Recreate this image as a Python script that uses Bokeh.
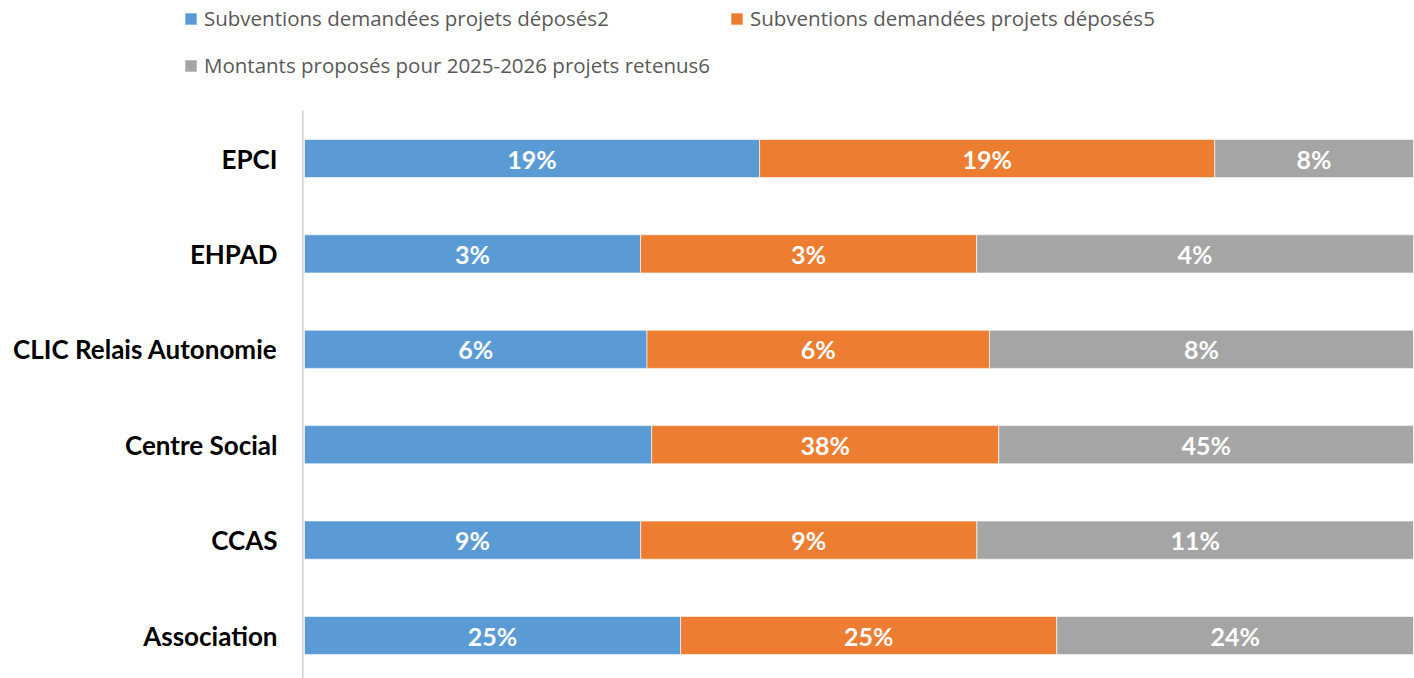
from bokeh.plotting import figure
from bokeh.models import ColumnDataSource, Legend, LegendItem, Range1d, FixedTicker
from bokeh.embed import file_html
from bokeh.resources import INLINE
from bokeh.core.properties import value

# ---- data (bottom to top) ----
categories = ["Association", "CCAS", "Centre Social", "CLIC Relais Autonomie", "EHPAD", "EPCI"]
series_names = [
    "Subventions demandées projets déposés2",
    "Subventions demandées projets déposés5",
    "Montants proposés pour 2025-2026 projets retenus6",
]
s1 = [25.2, 8.7, 38.0, 6.3, 3.0, 19.0]
s2 = [25.2, 8.7, 38.0, 6.3, 3.0, 19.0]
s3 = [23.9, 11.3, 45.4, 7.8, 3.9, 8.3]
hidden_labels = [(0, "Centre Social")]  # (series index, category) with no data label

colors = ["#5B9BD5", "#ED7D31", "#A5A5A5"]
series = [s1, s2, s3]

ys = list(range(len(categories)))
totals = [a + b + c for a, b, c in zip(s1, s2, s3)]

# ---- layout (pixels) ----
W, H = 1414, 678
PLOT_L, PLOT_R = 304, 1413          # where 0 % and 100 % fall
ROW_TOP, ROW_BOT, ROW_STEP = 158, 635, 95.4   # centres of top / bottom category rows

x_lo = -PLOT_L / (PLOT_R - PLOT_L)
x_hi = 1 + (W - PLOT_R) / (PLOT_R - PLOT_L)
n = len(categories)
y_hi = (n - 1) + ROW_TOP / ROW_STEP
y_lo = -(H - ROW_BOT) / ROW_STEP

p = figure(width=W, height=H, output_backend="svg", toolbar_location=None,
           x_range=Range1d(x_lo, x_hi), y_range=Range1d(y_lo, y_hi),
           x_axis_location=None,
           min_border_left=0, min_border_right=0, min_border_top=0, min_border_bottom=0)
p.outline_line_color = None
p.xgrid.visible = False
p.ygrid.visible = False

# vertical axis line (from the bottom up to the top band edge)
p.segment(x0=[-0.0015], y0=[y_lo], x1=[-0.0015], y1=[n - 0.5], line_color="#D9D9D9", line_width=2)

renderers = []
left = [0.0] * n
for i, s in enumerate(series):
    frac = [v / t for v, t in zip(s, totals)]
    right = [l + f for l, f in zip(left, frac)]
    mid = [(l + r) / 2 for l, r in zip(left, right)]
    labels = []
    for k, v in enumerate(s):
        if (i, categories[k]) in hidden_labels:
            labels.append("")
        else:
            labels.append(f"{round(v)}%")
    src = ColumnDataSource(dict(y=ys, left=left, right=right, mid=mid, lab=labels))
    r = p.hbar(y="y", left="left", right="right", height=0.4, source=src,
               fill_color=colors[i], line_color="white", line_width=1, line_alpha=0.6)
    renderers.append(r)
    p.text(x="mid", y="y", text="lab", source=src, text_align="center", text_baseline="middle",
           text_color="white", text_font=value("Lato"), text_font_style="bold",
           text_font_size="25px")
    left = right

ax = p.yaxis[0]
ax.fixed_location = 0
ax.ticker = FixedTicker(ticks=ys)
ax.major_label_overrides = {y: c for y, c in zip(ys, categories)}
ax.major_tick_line_color = None
ax.minor_tick_line_color = None
ax.axis_line_color = None
ax.major_label_standoff = 21
ax.major_label_text_font = "Lato"
ax.major_label_text_font_style = "bold"
ax.major_label_text_font_size = "26px"
ax.major_label_text_color = "#000000"

# ---- legends: (series index, glyph box left x px, row centre y px) ----
leg_pos = [(0, 183, 18), (1, 729, 18), (2, 183, 65)]
item_h = 30
for idx, gx, cy in leg_pos:
    top = cy - item_h / 2
    vy = H - top - item_h
    lg = Legend(items=[LegendItem(label=series_names[idx], renderers=[renderers[idx]])],
                location=(gx, vy), orientation="horizontal",
                glyph_width=15, glyph_height=15, label_standoff=6, label_height=item_h,
                padding=0, margin=0, border_line_color=None, background_fill_alpha=0,
                label_text_font="Open Sans", label_text_font_size="20.5px",
                label_text_color="#595959")
    p.add_layout(lg, "center")

open("out.html", "w").write(file_html(p, INLINE))
